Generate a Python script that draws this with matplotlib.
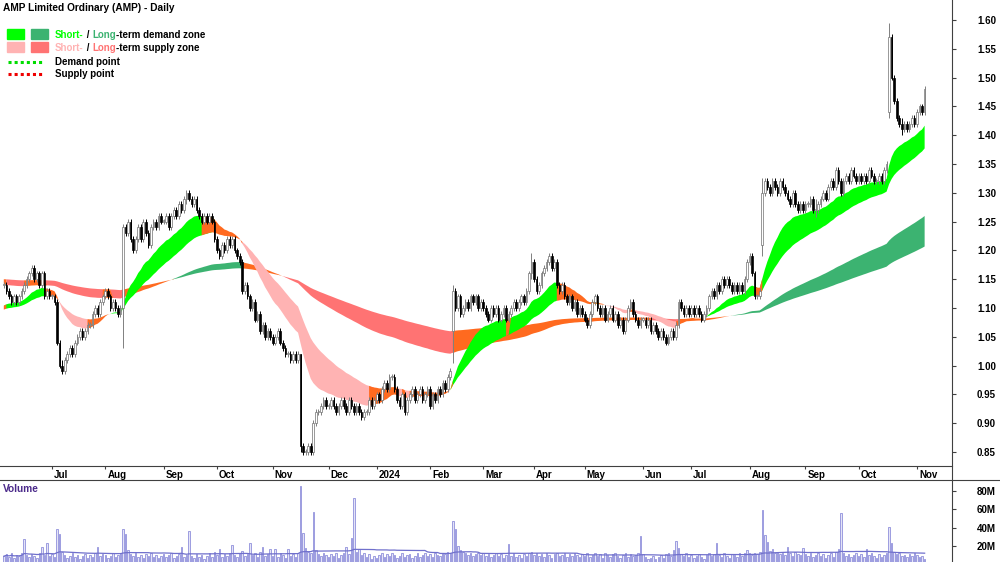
import numpy as np
import pandas as pd
import matplotlib
matplotlib.use("Agg")
import matplotlib.pyplot as plt
from matplotlib.lines import Line2D
from matplotlib.patches import Rectangle
from matplotlib.transforms import ScaledTranslation

# ─────────────────────────────────────────────
# CONFIG
# ─────────────────────────────────────────────

W, H = 1000, 562
plt.rcParams["font.family"] = ["Liberation Sans", "DejaVu Sans"]
plt.rcParams["font.weight"] = "bold"

SHORT_COLORS = {"demand": "#00FF00", "supply": "#FFB3B3", "neutral": "#FF6A1F"}
LONG_COLORS = {"demand": "#3CB371", "supply": "#FF7373", "neutral": "#FF6A1F"}
VOL_COLOR = "#9090DC"
LINE_COLOR = "#404040"

SHORT_SPANS = (20, 40)
LONG_SPANS = (130, 220)


def fx(px):
    return px / W


def fy(px):
    return 1 - px / H


# ─────────────────────────────────────────────
# DATA  (AMP daily, Jun 2023 - Nov 2024)
# ─────────────────────────────────────────────

HOLIDAYS = ["2023-06-12", "2023-12-25", "2023-12-26", "2024-01-01", "2024-01-26",
            "2024-03-29", "2024-04-01", "2024-04-25", "2024-06-10"]

close = [
    # Jun 2023
    1.14, 1.13, 1.12, 1.11, 1.12, 1.11, 1.12, 1.13, 1.14, 1.15, 1.16, 1.17, 1.15, 1.16, 1.14, 1.16, 1.12, 1.13, 1.12,
    # Jul
    1.12, 1.11, 1.04, 1.00, 0.99, 1.01, 1.02, 1.03, 1.02, 1.04, 1.05, 1.06, 1.05, 1.06, 1.07, 1.07, 1.09, 1.10, 1.09, 1.11, 1.12,
    # Aug
    1.13, 1.12, 1.10, 1.11, 1.10, 1.09, 1.10, 1.24, 1.23, 1.25, 1.22, 1.20, 1.22, 1.24, 1.22, 1.25, 1.23, 1.21, 1.24, 1.25, 1.24, 1.26, 1.25,
    # Sep
    1.25, 1.26, 1.24, 1.26, 1.27, 1.26, 1.28, 1.27, 1.29, 1.30, 1.29, 1.28, 1.29, 1.27, 1.26, 1.25, 1.26, 1.25, 1.26, 1.25, 1.22,
    # Oct
    1.20, 1.19, 1.21, 1.20, 1.22, 1.21, 1.22, 1.20, 1.19, 1.18, 1.13, 1.14, 1.12, 1.10, 1.11, 1.08, 1.09, 1.06, 1.07, 1.05, 1.06, 1.05,
    # Nov
    1.04, 1.05, 1.06, 1.04, 1.03, 1.02, 1.02, 1.01, 1.02, 1.01, 1.02, 0.86, 0.85, 0.85, 0.86, 0.85, 0.90, 0.92, 0.92, 0.93, 0.94, 0.93,
    # Dec
    0.93, 0.94, 0.93, 0.92, 0.93, 0.94, 0.93, 0.92, 0.94, 0.93, 0.92, 0.93, 0.92, 0.91, 0.92, 0.92, 0.94, 0.93, 0.94,
    # Jan 2024
    0.95, 0.94, 0.96, 0.97, 0.96, 0.98, 0.98, 0.96, 0.94, 0.93, 0.95, 0.92, 0.94, 0.95, 0.96, 0.94, 0.95, 0.96, 0.94, 0.95, 0.96,
    # Feb
    0.93, 0.95, 0.94, 0.96, 0.95, 0.97, 0.96, 0.98, 0.99, 1.13, 1.10, 1.12, 1.09, 1.10, 1.11, 1.10, 1.12, 1.11, 1.12, 1.10, 1.11,
    # Mar
    1.10, 1.09, 1.08, 1.10, 1.09, 1.10, 1.08, 1.09, 1.10, 1.08, 1.09, 1.10, 1.11, 1.10, 1.11, 1.12, 1.11, 1.13, 1.16, 1.18,
    # Apr
    1.15, 1.13, 1.14, 1.16, 1.17, 1.18, 1.19, 1.17, 1.18, 1.14, 1.13, 1.14, 1.12, 1.11, 1.12, 1.10, 1.11, 1.09, 1.10, 1.09,
    # May
    1.08, 1.07, 1.09, 1.11, 1.12, 1.10, 1.09, 1.10, 1.08, 1.09, 1.10, 1.08, 1.09, 1.07, 1.08, 1.06, 1.08, 1.10, 1.11, 1.09, 1.08, 1.07, 1.08,
    # Jun
    1.08, 1.07, 1.08, 1.06, 1.07, 1.06, 1.05, 1.06, 1.05, 1.04, 1.05, 1.06, 1.05, 1.07, 1.11, 1.10, 1.09, 1.10, 1.09,
    # Jul
    1.10, 1.09, 1.10, 1.09, 1.08, 1.09, 1.10, 1.12, 1.13, 1.12, 1.14, 1.13, 1.15, 1.14, 1.15, 1.14, 1.13, 1.14, 1.13, 1.14, 1.13, 1.15, 1.18,
    # Aug
    1.19, 1.16, 1.12, 1.12, 1.13, 1.30, 1.32, 1.31, 1.30, 1.32, 1.31, 1.30, 1.32, 1.31, 1.30, 1.29, 1.28, 1.30, 1.28, 1.27, 1.28, 1.27,
    # Sep
    1.28, 1.28, 1.29, 1.27, 1.27, 1.28, 1.29, 1.30, 1.29, 1.31, 1.32, 1.31, 1.34, 1.32, 1.30, 1.32, 1.33, 1.32, 1.34, 1.33, 1.32,
    # Oct
    1.33, 1.32, 1.33, 1.32, 1.34, 1.33, 1.32, 1.32, 1.33, 1.32, 1.34, 1.35, 1.57, 1.50, 1.46, 1.43, 1.42, 1.41, 1.42, 1.41, 1.42, 1.43, 1.42,
    # Nov
    1.44, 1.45, 1.44, 1.48,
]

# opens differing from the previous close (gap days)
gap_open = {177: 1.06, 299: 1.21, 349: 1.44}
# (low, high) for candles with long wicks
wick_range = {23: (0.985, 1.01), 47: (1.03, 1.245), 72: (1.28, 1.305), 117: (0.85, 1.02),
              177: (1.005, 1.14), 208: (1.15, 1.195), 299: (1.19, 1.325), 320: (1.258, 1.29),
              349: (1.43, 1.595), 354: (1.40, 1.43)}

volume_m = [
    # Jun 2023
    9, 11, 8, 12, 7, 10, 9, 13, 28, 10, 8, 11, 9, 7, 12, 19, 10, 23, 9,
    # Jul
    11, 8, 39, 33, 14, 10, 7, 9, 12, 8, 10, 6, 9, 11, 7, 10, 8, 12, 19, 9, 11,
    # Aug
    10, 7, 9, 12, 8, 10, 13, 39, 33, 16, 11, 9, 12, 8, 10, 7, 11, 9, 12, 8, 10, 7, 9,
    # Sep
    11, 8, 10, 12, 7, 9, 11, 19, 8, 10, 36, 9, 7, 11, 8, 10, 6, 9, 12, 8, 14,
    # Oct
    10, 17, 8, 11, 9, 12, 21, 10, 8, 13, 15, 9, 11, 23, 10, 12, 8, 14, 19, 9, 11, 17,
    # Nov
    9, 17, 8, 12, 10, 7, 17, 9, 11, 8, 13, 85, 34, 18, 14, 12, 57, 16, 11, 9, 13, 10,
    # Dec
    8, 11, 9, 12, 7, 10, 13, 19, 11, 29, 72, 14, 17, 10, 12, 8, 11, 6, 9,
    # Jan 2024
    7, 10, 12, 8, 11, 9, 13, 10, 7, 9, 12, 8, 10, 11, 7, 9, 12, 8, 10, 13, 9,
    # Feb
    11, 8, 12, 10, 9, 13, 11, 14, 12, 47, 39, 20, 16, 14, 12, 10, 13, 9, 11, 12, 10,
    # Mar
    12, 9, 11, 8, 10, 13, 9, 11, 7, 10, 22, 9, 12, 8, 10, 7, 11, 9, 12, 14,
    # Apr
    10, 13, 9, 11, 8, 12, 10, 7, 11, 13, 9, 10, 12, 8, 11, 9, 13, 10, 8, 11,
    # May
    9, 12, 8, 10, 13, 9, 11, 7, 12, 10, 8, 11, 13, 9, 7, 10, 12, 8, 11, 9, 10, 12, 31,
    # Jun
    11, 8, 6, 7, 9, 6, 8, 10, 7, 11, 13, 9, 16, 26, 18, 11, 9, 12, 8,
    # Jul
    10, 7, 9, 11, 8, 6, 10, 12, 9, 11, 23, 10, 8, 12, 9, 7, 11, 10, 8, 12, 9, 13, 16,
    # Aug
    12, 10, 13, 11, 14, 59, 32, 25, 15, 17, 12, 14, 11, 13, 10, 19, 12, 9, 14, 11, 10, 18,
    # Sep
    11, 9, 12, 8, 10, 13, 9, 11, 7, 10, 12, 8, 14, 17, 56, 12, 9, 11, 8, 10, 12,
    # Oct
    9, 11, 8, 17, 10, 12, 9, 7, 11, 8, 10, 13, 41, 23, 14, 11, 12, 9, 10, 8, 11, 9, 12,
    # Nov
    10, 8, 9, 6,
]

short_seed = (1.10, 1.095)
long_seed = (1.14, 1.15)

price_ticks = [0.85, 0.90, 0.95, 1.00, 1.05, 1.10, 1.15, 1.20, 1.25, 1.30,
               1.35, 1.40, 1.45, 1.50, 1.55, 1.60]
volume_ticks = [20, 40, 60, 80]

# ─────────────────────────────────────────────
# PREP
# ─────────────────────────────────────────────

dates = pd.bdate_range("2023-06-05", "2024-11-06")
dates = dates[~dates.isin(pd.to_datetime(HOLIDAYS))]
assert len(dates) == len(close) == len(volume_m)

n = len(close)
idx = np.arange(n)
c = np.array(close)
o = np.concatenate([[c[0]], c[:-1]])
for i, v in gap_open.items():
    o[i] = v
hi = np.maximum(o, c) + 0.005
lo = np.minimum(o, c) - 0.005
for i, (l, h) in wick_range.items():
    lo[i], hi[i] = l, h


def ema(values, span, seed):
    a = 2 / (span + 1)
    e = seed
    out = []
    for v in values:
        e = e + a * (v - e)
        out.append(e)
    return np.array(out)


def zone_state(fast, slow):
    df_ = np.diff(fast, prepend=fast[0])
    ds_ = np.diff(slow, prepend=slow[0])
    state = np.full(len(fast), "neutral", dtype=object)
    state[(fast > slow) & (df_ > 0) & (ds_ > 0)] = "demand"
    state[(fast < slow) & (df_ < 0) & (ds_ < 0)] = "supply"
    return state


short_f = ema(c, SHORT_SPANS[0], short_seed[0])
short_s = ema(c, SHORT_SPANS[1], short_seed[1])
long_f = ema(c, LONG_SPANS[0], long_seed[0])
long_s = ema(c, LONG_SPANS[1], long_seed[1])

month_first = pd.Series(idx, index=dates).groupby(dates.to_period("M")).min()
month_ticks = month_first.values[1:]
month_labels = [("%d" % d.year) if d.month == 1 else d.strftime("%b")
                for d in dates[month_ticks]]

# ─────────────────────────────────────────────
# FIGURE
# ─────────────────────────────────────────────

fig = plt.figure(figsize=(W / 100, H / 100), dpi=100)
ax = fig.add_axes([0, fy(466), fx(952), fy(0) - fy(466)])
axv = fig.add_axes([0, 0, fx(952), fy(480)])

xlim = (-1.5, -1.5 + 952 / 2.5367)


def draw_zone(axis, fast, slow, colors, z):
    state = zone_state(fast, slow)
    for s, col in colors.items():
        m = state == s
        m = m | np.concatenate([[False], m[:-1]])
        axis.fill_between(idx, fast, slow, where=m, color=col, lw=0,
                          interpolate=True, zorder=z)


draw_zone(ax, long_f, long_s, LONG_COLORS, 1)
draw_zone(ax, short_f, short_s, SHORT_COLORS, 2)

# candles
up = c >= o
ax.vlines(idx[up], lo[up], hi[up], color="#808080", lw=0.7, zorder=3)
ax.vlines(idx[~up], lo[~up], hi[~up], color="black", lw=0.7, zorder=3)
body_h = np.maximum(np.abs(c - o), 0.002)
ax.bar(idx[up], body_h[up], bottom=np.minimum(o, c)[up], width=0.65,
       color="white", edgecolor="#707070", lw=0.5, zorder=4)
ax.bar(idx[~up], body_h[~up], bottom=np.minimum(o, c)[~up], width=0.65,
       color="black", edgecolor="black", lw=0.5, zorder=4)

ax.set_xlim(*xlim)
ax.set_ylim(1.60 - 446 / 576, 1.60 + 20 / 576)
ax.yaxis.tick_right()
ax.set_yticks(price_ticks)
ax.set_yticklabels(["%.2f" % t for t in price_ticks])
ax.tick_params(axis="y", direction="out", length=3, pad=15, labelsize=7,
               color=LINE_COLOR)
ax.set_xticks(month_ticks)
ax.set_xticklabels(month_labels)
ax.tick_params(axis="x", direction="out", length=2, pad=1, labelsize=7,
               color=LINE_COLOR)
shift = ScaledTranslation(2 / 100, 0, fig.dpi_scale_trans)
for lab in ax.get_xticklabels():
    lab.set_horizontalalignment("left")
    lab.set_transform(lab.get_transform() + shift)
for sp in ["top", "left", "right", "bottom"]:
    ax.spines[sp].set_visible(False)
ax.patch.set_alpha(0)

# volume panel
axv.bar(idx, volume_m, width=0.6, color="#E4E4F7", edgecolor=VOL_COLOR,
        lw=0.6, zorder=2)
vol_ma = pd.Series(volume_m).rolling(50, min_periods=1).mean()
axv.plot(idx, vol_ma, color="#7070CC", lw=0.9, zorder=3)
axv.set_xlim(*xlim)
axv.set_ylim(2.7, 92)
axv.set_xticks([])
axv.yaxis.tick_right()
axv.set_yticks(volume_ticks)
axv.set_yticklabels(["%dM" % t for t in volume_ticks])
axv.tick_params(axis="y", direction="out", length=3, pad=15, labelsize=7,
                color=LINE_COLOR)
for sp in ["top", "left", "right", "bottom"]:
    axv.spines[sp].set_visible(False)
axv.text(fx(3), fy(489), "Volume", transform=fig.transFigure, fontsize=7.3,
         color="#4B2A8A", va="center", ha="left")

# frame lines
fig.add_artist(Line2D([fx(952), fx(952)], [0, 1], color=LINE_COLOR, lw=0.8))
fig.add_artist(Line2D([0, fx(952)], [fy(466), fy(466)], color=LINE_COLOR, lw=0.8))
fig.add_artist(Line2D([0, 1], [fy(480), fy(480)], color=LINE_COLOR, lw=0.8))

# title and legend
fig.text(fx(3), fy(8), "AMP Limited Ordinary (AMP) - Daily", fontsize=7.3,
         va="center", ha="left")

for x0, col in [(7, SHORT_COLORS["demand"]), (31, LONG_COLORS["demand"])]:
    fig.add_artist(Rectangle((fx(x0), fy(39)), fx(17), fy(29) - fy(39),
                             color=col, transform=fig.transFigure))
for x0, col in [(7, SHORT_COLORS["supply"]), (31, LONG_COLORS["supply"])]:
    fig.add_artist(Rectangle((fx(x0), fy(52)), fx(17), fy(42) - fy(52),
                             color=col, transform=fig.transFigure))
fig.add_artist(Line2D([fx(8), fx(44)], [fy(62), fy(62)], color="#00DD00",
                      lw=2.2, ls=(0, (1, 1))))
fig.add_artist(Line2D([fx(8), fx(44)], [fy(74), fy(74)], color="#EE0000",
                      lw=2.2, ls=(0, (1, 1))))

renderer = fig.canvas.get_renderer()


def rich_text(x_px, y_px, parts):
    x = fx(x_px)
    for s, col in parts:
        t = fig.text(x, fy(y_px), s, color=col, fontsize=7, va="center", ha="left")
        x += t.get_window_extent(renderer).width / fig.bbox.width


rich_text(55, 35, [("Short-", SHORT_COLORS["demand"]), (" / ", "black"),
                   ("Long", LONG_COLORS["demand"]), ("-term demand zone", "black")])
rich_text(55, 48, [("Short-", SHORT_COLORS["supply"]), (" / ", "black"),
                   ("Long", LONG_COLORS["supply"]), ("-term supply zone", "black")])
rich_text(55, 62, [("Demand point", "black")])
rich_text(55, 74, [("Supply point", "black")])

fig.savefig("out.png", dpi=100)
